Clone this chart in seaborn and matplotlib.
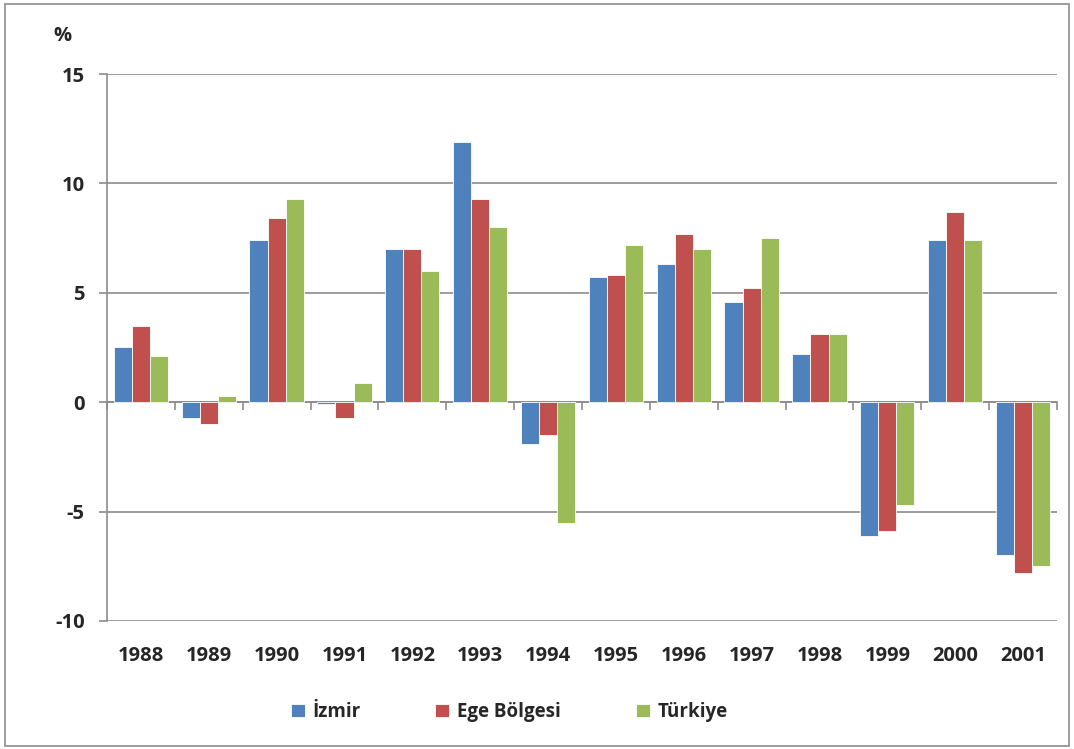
import matplotlib
matplotlib.use("Agg")
import matplotlib.pyplot as plt
from matplotlib.patches import Rectangle
import seaborn as sns
import pandas as pd

years = ["1988", "1989", "1990", "1991", "1992", "1993", "1994",
         "1995", "1996", "1997", "1998", "1999", "2000", "2001"]
izmir = [2.5, -0.7, 7.4, -0.1, 7.0, 11.9, -1.9, 5.7, 6.3, 4.6, 2.2, -6.1, 7.4, -7.0]
ege = [3.5, -1.0, 8.4, -0.7, 7.0, 9.3, -1.5, 5.8, 7.7, 5.2, 3.1, -5.9, 8.7, -7.8]
turkiye = [2.1, 0.3, 9.3, 0.9, 6.0, 8.0, -5.5, 7.2, 7.0, 7.5, 3.1, -4.7, 7.4, -7.5]
series_names = ["İzmir", "Ege Bölgesi", "Türkiye"]
colors = ["#4F81BD", "#C0504D", "#9BBB59"]
yticks = [-10, -5, 0, 5, 10, 15]

rows = []
for name, vals in zip(series_names, [izmir, ege, turkiye]):
    for y, v in zip(years, vals):
        rows.append({"Yıl": y, "Seri": name, "Değer": v})
df = pd.DataFrame(rows)

sns.set_style("white")
plt.rcParams["font.family"] = ["Open Sans", "DejaVu Sans"]
plt.rcParams["font.weight"] = "bold"
FS = 14.5

fig = plt.figure(figsize=(10.74, 7.49), dpi=100)
ax = fig.add_axes([107 / 1074, 1 - 621 / 749, 950 / 1074, 547 / 749])

sns.barplot(data=df, x="Yıl", y="Değer", hue="Seri", order=years,
            hue_order=series_names, palette=colors, width=0.8, saturation=1,
            edgecolor="white", linewidth=0.6, ax=ax, legend=True)

ax.set_xlim(-0.5, len(years) - 0.5)
ax.set_ylim(-10, 15)
ax.set_yticks(yticks)
ax.set_yticklabels([str(t) for t in yticks], fontsize=FS, fontweight="bold")
ax.set_xlabel("")
ax.set_ylabel("")

grid_color = "#8C8C8C"
ax.grid(axis="y", color=grid_color, linewidth=1.2)
ax.set_axisbelow(True)
for s in ["top", "right", "bottom"]:
    ax.spines[s].set_visible(False)
ax.spines["left"].set_color(grid_color)
ax.spines["left"].set_linewidth(1.2)
ax.tick_params(axis="y", direction="out", length=6, color=grid_color, width=1.2,
               pad=10, left=True)
ax.tick_params(axis="x", length=0, pad=18, labelsize=FS)
for lbl in ax.get_xticklabels():
    lbl.set_fontweight("bold")

# zero axis with boundary tick marks
sec = ax.secondary_xaxis(10 / 25)
sec.set_xticks([i - 0.5 for i in range(len(years) + 1)])
sec.set_xticklabels([""] * (len(years) + 1))
sec.tick_params(axis="x", direction="out", length=6, color=grid_color, width=1.2)
sec.spines["bottom"].set_color(grid_color)
sec.spines["bottom"].set_linewidth(1.2)

fig.text(62 / 1074, 1 - 36 / 749, "%", fontsize=FS, fontweight="bold",
         ha="center", va="center")

handles, labels = ax.get_legend_handles_labels()
ax.get_legend().remove()
fig.legend(handles, labels, loc="center", bbox_to_anchor=(509 / 1074, 1 - 712 / 749),
           ncol=3, frameon=False, handlelength=0.75, handleheight=0.75,
           handletextpad=0.4, columnspacing=4.0,
           prop={"weight": "bold", "size": 13.5})

fig.add_artist(Rectangle((5 / 1074, 3 / 749), 1064 / 1074, 742 / 749,
                         transform=fig.transFigure, fill=False,
                         edgecolor=grid_color, linewidth=1.2))

fig.savefig("out.png", dpi=100)
